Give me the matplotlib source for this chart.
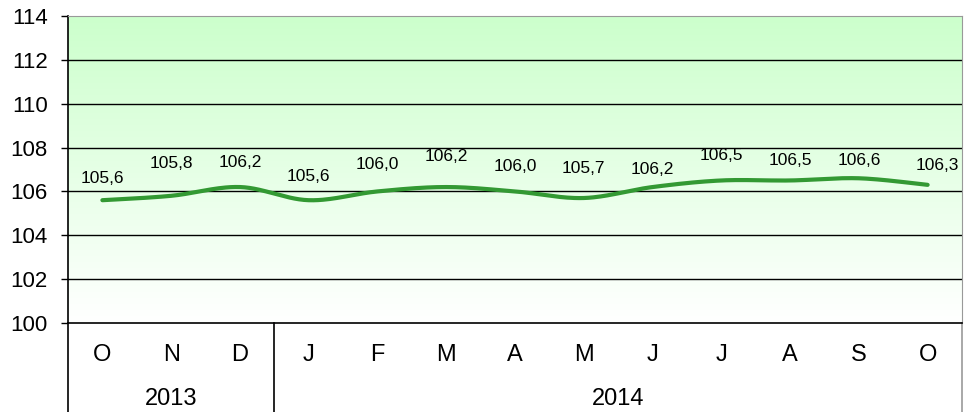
import matplotlib
matplotlib.use("Agg")
import matplotlib.pyplot as plt
import numpy as np

plt.rcParams['font.family'] = ['Liberation Sans', 'DejaVu Sans']

# data
months = ['O', 'N', 'D', 'J', 'F', 'M', 'A', 'M', 'J', 'J', 'A', 'S', 'O']
years = ['2013', '2014']
year_counts = [3, 10]
values = [105.6, 105.8, 106.2, 105.6, 106.0, 106.2, 106.0, 105.7, 106.2, 106.5, 106.5, 106.6, 106.3]
labels = ['105,6', '105,8', '106,2', '105,6', '106,0', '106,2', '106,0', '105,7', '106,2', '106,5', '106,5', '106,6', '106,3']

# label placement (pixels above point), like Excel put them
lab_dy = [22, 32, 25, 24, 27, 31, 25, 30, 18, 25, 20, 18, 19]
lab_dx = [0] * 12 + [10]


def smooth(xs, ys, n=30):
    # catmull-rom like excel "smoothed line"
    xs = np.asarray(xs, float); ys = np.asarray(ys, float)
    px = np.concatenate([[xs[0]], xs, [xs[-1]]])
    py = np.concatenate([[ys[0]], ys, [ys[-1]]])
    outx, outy = [], []
    for i in range(1, len(px) - 2):
        p0 = np.array([px[i], py[i]]); p3 = np.array([px[i+1], py[i+1]])
        c1 = p0 + (p3 - np.array([px[i-1], py[i-1]])) / 6.0
        c2 = p3 - (np.array([px[i+2], py[i+2]]) - p0) / 6.0
        t = np.linspace(0, 1, n)[:, None]
        b = (1-t)**3*p0 + 3*(1-t)**2*t*c1 + 3*(1-t)*t**2*c2 + t**3*p3
        outx.extend(b[:, 0]); outy.extend(b[:, 1])
    return np.array(outx), np.array(outy)


fig = plt.figure(figsize=(9.65, 4.12), dpi=100)
ax = fig.add_axes([68/965, (412-323)/412, 894/965, (323-16)/412])

x = np.arange(len(values))
ax.set_xlim(-0.5, len(values) - 0.5)
ax.set_ylim(100, 114)

# gradient background
grad = np.linspace(0, 1, 256)[:, None]
top = np.array([204, 255, 204]) / 255.0
cols = top[None, None, :] * grad[:, :, None] + np.ones(3)[None, None, :] * (1 - grad[:, :, None])
ax.imshow(cols, extent=[-0.5, len(values) - 0.5, 100, 114], origin='lower', aspect='auto', zorder=0)

for yv in range(102, 114, 2):
    ax.axhline(yv, color='black', lw=1.0, zorder=1)

sx, sy = smooth(x, values)
ax.plot(sx, sy, color='#339933', lw=3, zorder=3, solid_capstyle='round')

for i, v in enumerate(values):
    ax.annotate(labels[i], (x[i], v), xytext=(lab_dx[i], lab_dy[i]), textcoords='offset pixels',
                ha='center', va='center', fontsize=12.5, zorder=4)

ax.set_yticks(range(100, 115, 2))
ax.tick_params(axis='y', labelsize=16, length=5, width=1, direction='out', pad=9.5)
ax.set_xticks([])
for s in ['top', 'right']:
    ax.spines[s].set_color('#999999')
ax.spines['left'].set_linewidth(1.2)
ax.spines['bottom'].set_linewidth(1.2)

# two level category axis
tr = ax.get_xaxis_transform()
bottom = -(412 - 323) / 307.0
for i, m in enumerate(months):
    ax.text(x[i], -0.103, m, transform=tr, ha='center', va='center', fontsize=17, clip_on=False)
start = 0
bounds = [-0.5]
for yr, c in zip(years, year_counts):
    ax.text(start + (c - 1) / 2.0, -0.248, yr, transform=tr, ha='center', va='center', fontsize=17, clip_on=False)
    start += c
    bounds.append(start - 0.5)
for i, b in enumerate(bounds):
    col = '#999999' if i == len(bounds) - 1 else 'black'
    ax.plot([b, b], [0, bottom], transform=tr, color=col, lw=1.2, clip_on=False)

fig.savefig('out.png', dpi=100)
